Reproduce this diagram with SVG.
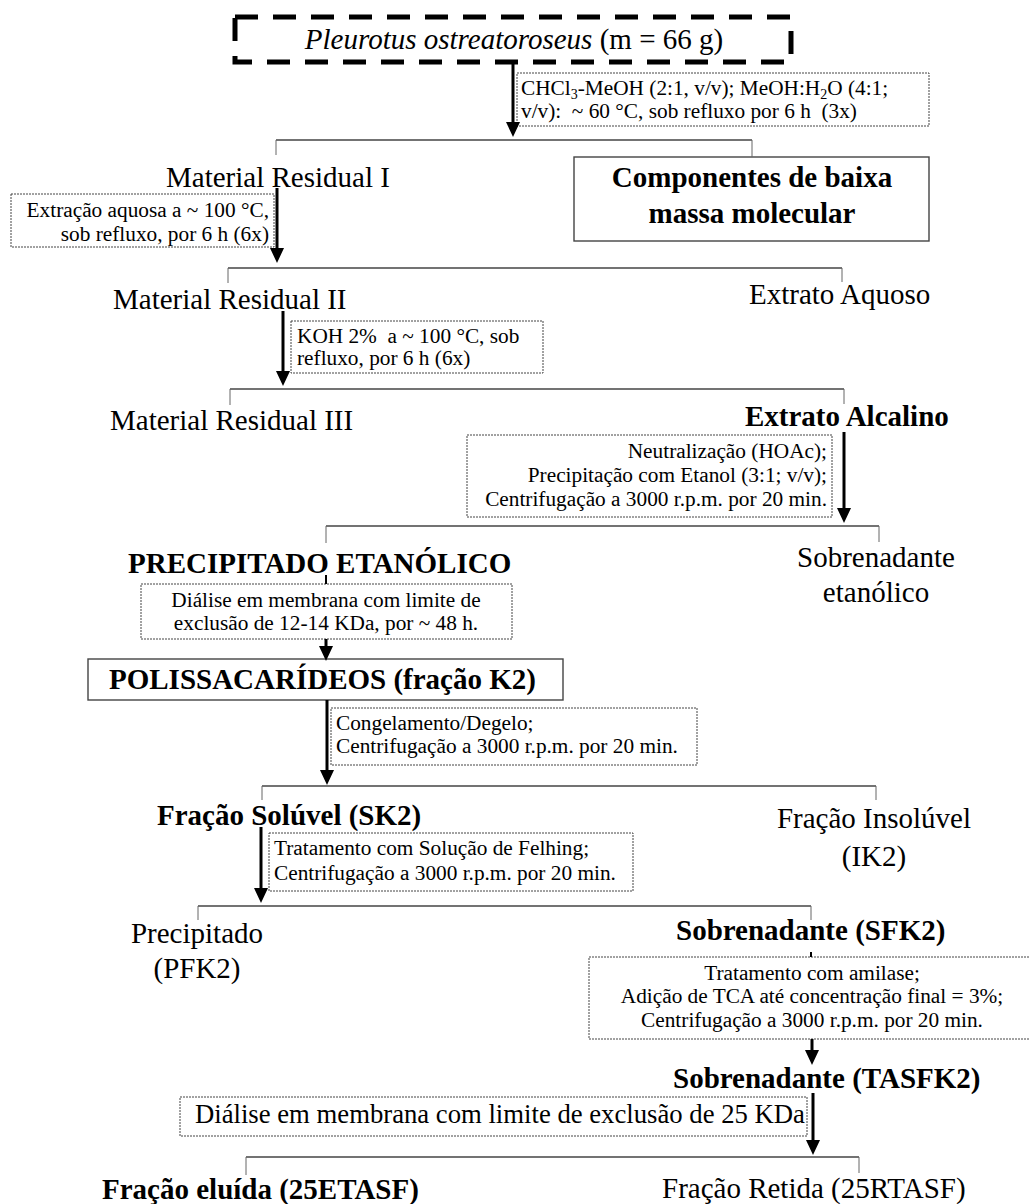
<svg xmlns="http://www.w3.org/2000/svg" width="1029" height="1204" viewBox="0 0 1029 1204">
<style>
text{font-family:"Liberation Serif","Times New Roman",serif;fill:#000}
.lb{font-size:29px}
.b{font-weight:bold}
.n{font-size:21.3px;white-space:pre}
.n2{font-size:26.7px}
.c{text-anchor:middle}
.r{text-anchor:end}
.sub{font-size:14px;baseline-shift:-4px}
.note{fill:none;stroke:#444;stroke-width:1;stroke-dasharray:2 1}
.box{fill:none;stroke:#444;stroke-width:1.4}
.hl{fill:none;stroke:#444;stroke-width:1.4}
.tk{fill:none;stroke:#666;stroke-width:1}
.ar{fill:none;stroke:#000;stroke-width:3;marker-end:url(#ah)}
.st{fill:none;stroke:#000;stroke-width:2}
</style>
<defs>
<marker id="ah" markerUnits="userSpaceOnUse" markerWidth="16" markerHeight="16" viewBox="0 0 16 16" refX="5" refY="8" orient="auto"><path d="M0,1 L15,8 L0,15 z" fill="#000"/></marker>
</defs>
<rect width="1029" height="1204" fill="#fff"/>

<g id="n-start">
<rect x="235" y="17" width="556" height="45" fill="none" stroke="#000" stroke-width="5" stroke-dasharray="23 15"/>
<text class="lb c" x="514" y="49"><tspan font-style="italic">Pleurotus ostreatoroseus</tspan> (m = 66 g)</text>
</g>

<g id="n-note1">
<rect class="note" x="517" y="73" width="412" height="53"/>
<text class="n" x="521" y="95">CHCl<tspan class="sub">3</tspan>-MeOH (2:1, v/v); MeOH:H<tspan class="sub">2</tspan>O (4:1;</text>
<text class="n" x="521" y="118">v/v):  ~ 60 °C, sob refluxo por 6 h  (3x)</text>
</g>

<g id="n-mr1"><text class="lb" x="166" y="187">Material Residual I</text></g>
<g id="n-comp">
<rect class="box" x="574" y="157" width="355" height="84"/>
<text class="lb b c" x="752" y="187">Componentes de baixa</text>
<text class="lb b c" x="752" y="223">massa molecular</text>
</g>

<g id="n-note2">
<rect class="note" x="11" y="194" width="263" height="53"/>
<text class="n r" x="269" y="217">Extração aquosa a ~ 100 °C,</text>
<text class="n r" x="269" y="241">sob refluxo, por 6 h (6x)</text>
</g>

<g id="n-mr2"><text class="lb" x="113" y="309">Material Residual II</text></g>
<g id="n-aq"><text class="lb" x="749" y="304">Extrato Aquoso</text></g>

<g id="n-note3">
<rect class="note" x="291" y="321" width="252" height="52"/>
<text class="n" x="297" y="343">KOH 2%  a ~ 100 °C, sob</text>
<text class="n" x="297" y="365">refluxo, por 6 h (6x)</text>
</g>

<g id="n-mr3"><text class="lb" x="110" y="430">Material Residual III</text></g>
<g id="n-alc"><text class="lb b" x="745" y="426">Extrato Alcalino</text></g>

<g id="n-note4">
<rect class="note" x="467" y="435" width="365" height="82"/>
<text class="n r" x="827" y="458">Neutralização (HOAc);</text>
<text class="n r" x="827" y="482">Precipitação com Etanol (3:1; v/v);</text>
<text class="n r" x="827" y="506">Centrifugação a 3000 r.p.m. por 20 min.</text>
</g>

<g id="n-prec"><text class="lb b" x="128" y="573">PRECIPITADO ETANÓLICO</text></g>
<g id="n-sobre">
<text class="lb c" x="876" y="567">Sobrenadante</text>
<text class="lb c" x="876" y="602">etanólico</text>
</g>

<g id="n-note5">
<rect class="note" x="141" y="584" width="371" height="55"/>
<text class="n c" x="326" y="607">Diálise em membrana com limite de</text>
<text class="n c" x="326" y="630">exclusão de 12-14 KDa, por ~ 48 h.</text>
</g>

<g id="n-poli">
<rect class="box" x="88" y="659" width="475" height="41" stroke-width="1.6"/>
<text class="lb b" x="109" y="689">POLISSACARÍDEOS (fração K2)</text>
</g>

<g id="n-note6">
<rect class="note" x="331" y="708" width="366" height="57"/>
<text class="n" x="336" y="730">Congelamento/Degelo;</text>
<text class="n" x="336" y="753">Centrifugação a 3000 r.p.m. por 20 min.</text>
</g>

<g id="n-sk2"><text class="lb b" x="157" y="825">Fração Solúvel (SK2)</text></g>
<g id="n-ik2">
<text class="lb c" x="874" y="828">Fração Insolúvel</text>
<text class="lb c" x="874" y="866">(IK2)</text>
</g>

<g id="n-note7">
<rect class="note" x="269" y="833" width="364" height="58"/>
<text class="n" x="274" y="855">Tratamento com Solução de Felhing;</text>
<text class="n" x="274" y="880">Centrifugação a 3000 r.p.m. por 20 min.</text>
</g>

<g id="n-pfk2">
<text class="lb c" x="197" y="943">Precipitado</text>
<text class="lb c" x="197" y="978">(PFK2)</text>
</g>
<g id="n-sfk2"><text class="lb b" x="676" y="940">Sobrenadante (SFK2)</text></g>

<g id="n-note8">
<rect class="note" x="589" y="957" width="446" height="82"/>
<text class="n c" x="812" y="980">Tratamento com amilase;</text>
<text class="n c" x="812" y="1003">Adição de TCA até concentração final = 3%;</text>
<text class="n c" x="812" y="1027">Centrifugação a 3000 r.p.m. por 20 min.</text>
</g>

<g id="n-tasfk2"><text class="lb b" x="673" y="1088">Sobrenadante (TASFK2)</text></g>

<g id="n-note9">
<rect class="note" x="180" y="1097" width="627" height="39"/>
<text class="n2" x="195" y="1123">Diálise em membrana com limite de exclusão de 25 KDa</text>
</g>

<g id="n-elu"><text class="lb b" x="102" y="1199">Fração eluída (25ETASF)</text></g>
<g id="n-ret"><text class="lb" x="662" y="1198">Fração Retida (25RTASF)</text></g>

<g id="connectors">
<path class="hl" d="M276,140 H752"/>
<path class="tk" d="M276,140 V155 M752,140 V157"/>
<path class="hl" d="M228,268 H842"/>
<path class="tk" d="M228,268 V283 M842,268 V282"/>
<path class="hl" d="M230,389 H844"/>
<path class="tk" d="M230,389 V405 M844,389 V404"/>
<path class="hl" d="M326,526 H879"/>
<path class="tk" d="M326,526 V543 M879,526 V542"/>
<path class="hl" d="M262,786 H876"/>
<path class="tk" d="M262,786 V800 M876,786 V800"/>
<path class="hl" d="M198,906 H811"/>
<path class="tk" d="M198,906 V920 M811,906 V920"/>
<path class="hl" d="M246,1157 H859"/>
<path class="tk" d="M246,1157 V1175 M859,1157 V1173"/>

<line class="ar" x1="513" y1="63" x2="513" y2="127"/>
<line class="ar" x1="277" y1="188" x2="277" y2="253"/>
<line class="ar" x1="283" y1="311" x2="283" y2="376"/>
<line class="ar" x1="844" y1="432" x2="844" y2="513"/>
<line class="st" x1="326" y1="575" x2="326" y2="584"/>
<line class="ar" x1="326" y1="639" x2="326" y2="651"/>
<line class="ar" x1="327" y1="700" x2="327" y2="775"/>
<line class="ar" x1="261" y1="827" x2="261" y2="893"/>
<line class="st" x1="811" y1="952" x2="811" y2="957"/>
<line class="ar" x1="812" y1="1039" x2="812" y2="1055"/>
<line class="ar" x1="813" y1="1093" x2="813" y2="1145"/>
</g>
</svg>
